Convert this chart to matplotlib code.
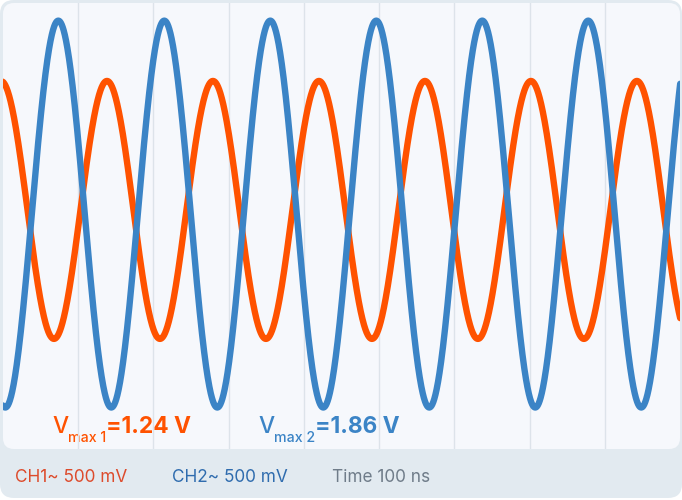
import numpy as np
import matplotlib.pyplot as plt
from matplotlib.patches import FancyBboxPatch

# channel readings (volts) and timebase
vmax = [1.24, 1.86]           # CH1, CH2 amplitude
offset = [0.02, -0.02]        # small DC offsets seen on screen
peak_time = [-2.7, 73.5]      # ns, time of a positive peak
period_ns = 140.9             # both channels
time_div_ns = 100
n_div = 9
ch_labels = ["CH1~ 500 mV", "CH2~ 500 mV", "Time 100 ns"]

c_ch1 = "#ff5200"
c_ch2 = "#3b84c6"
c_ch1_txt = "#dd4b2c"
c_ch2_txt = "#2f6cae"
c_time_txt = "#6f7c89"

plt.rcParams['font.family'] = ['Inter', 'DejaVu Sans']

W, H = 682, 500
fig = plt.figure(figsize=(W / 100, H / 100), dpi=100)
fig.patch.set_facecolor("white")

# background axes in pixel units
bg = fig.add_axes([0, 0, 1, 1])
bg.set_xlim(0, W)
bg.set_ylim(H, 0)
bg.axis("off")
bg.add_patch(FancyBboxPatch((0, 0), W, H - 2, boxstyle="round,pad=0,rounding_size=14",
                            fc="#e2eaf0", ec="none"))
px0, py0, px1, py1 = 3, 3, 680, 449
bg.add_patch(FancyBboxPatch((px0, py0), px1 - px0, py1 - py0,
                            boxstyle="round,pad=0,rounding_size=11",
                            fc="#f6f8fc", ec="none"))

# scope screen
y_zero = 212      # px
px_per_volt = 104
ax = fig.add_axes([px0 / W, 1 - py1 / H, (px1 - px0) / W, (py1 - py0) / H])
ax.set_facecolor("none")
ax.set_xlim(0, n_div * time_div_ns)
ax.set_ylim(-(py1 - y_zero) / px_per_volt, (y_zero - py0) / px_per_volt)
for s in ax.spines.values():
    s.set_visible(False)
ax.set_xticks([])
ax.set_yticks([])
for k in range(1, n_div):
    ax.axvline(k * time_div_ns, color="#dde3ea", lw=1, zorder=1)

t = np.linspace(-20, n_div * time_div_ns + 20, 3000)
for amp, off, tp, col in [(vmax[0], offset[0], peak_time[0], c_ch1),
                          (vmax[1], offset[1], peak_time[1], c_ch2)]:
    v = off + amp * np.cos(2 * np.pi * (t - tp) / period_ns)
    ax.plot(t, v, color=col, lw=4.6, solid_capstyle="round", zorder=3)

# Vmax annotations built from pieces
fig.canvas.draw()
rend = fig.canvas.get_renderer()


def put_pieces(x, y, pieces):
    for txt, size, weight, dy, col in pieces:
        tt = bg.text(x, y + dy, txt, fontsize=size, fontweight=weight, color=col,
                     ha="left", va="baseline", zorder=5)
        bb = tt.get_window_extent(rend)
        x += bb.width


put_pieces(52, 433, [("V", 16.4, "medium", 0, c_ch1),
                     ("max 1", 10.2, "medium", 9, c_ch1),
                     ("=1.24 V", 16.4, "bold", 0, c_ch1)])
put_pieces(258, 433, [("V", 16.4, "medium", 0, c_ch2),
                      ("max 2", 10.2, "medium", 9, c_ch2),
                      ("=1.86 V", 16.4, "bold", 0, c_ch2)])

for xx, lab, col in zip([15, 172, 332], ch_labels, [c_ch1_txt, c_ch2_txt, c_time_txt]):
    bg.text(xx, 482, lab, fontsize=12.4, color=col, ha="left", va="baseline")

fig.savefig("out.png", dpi=100)
